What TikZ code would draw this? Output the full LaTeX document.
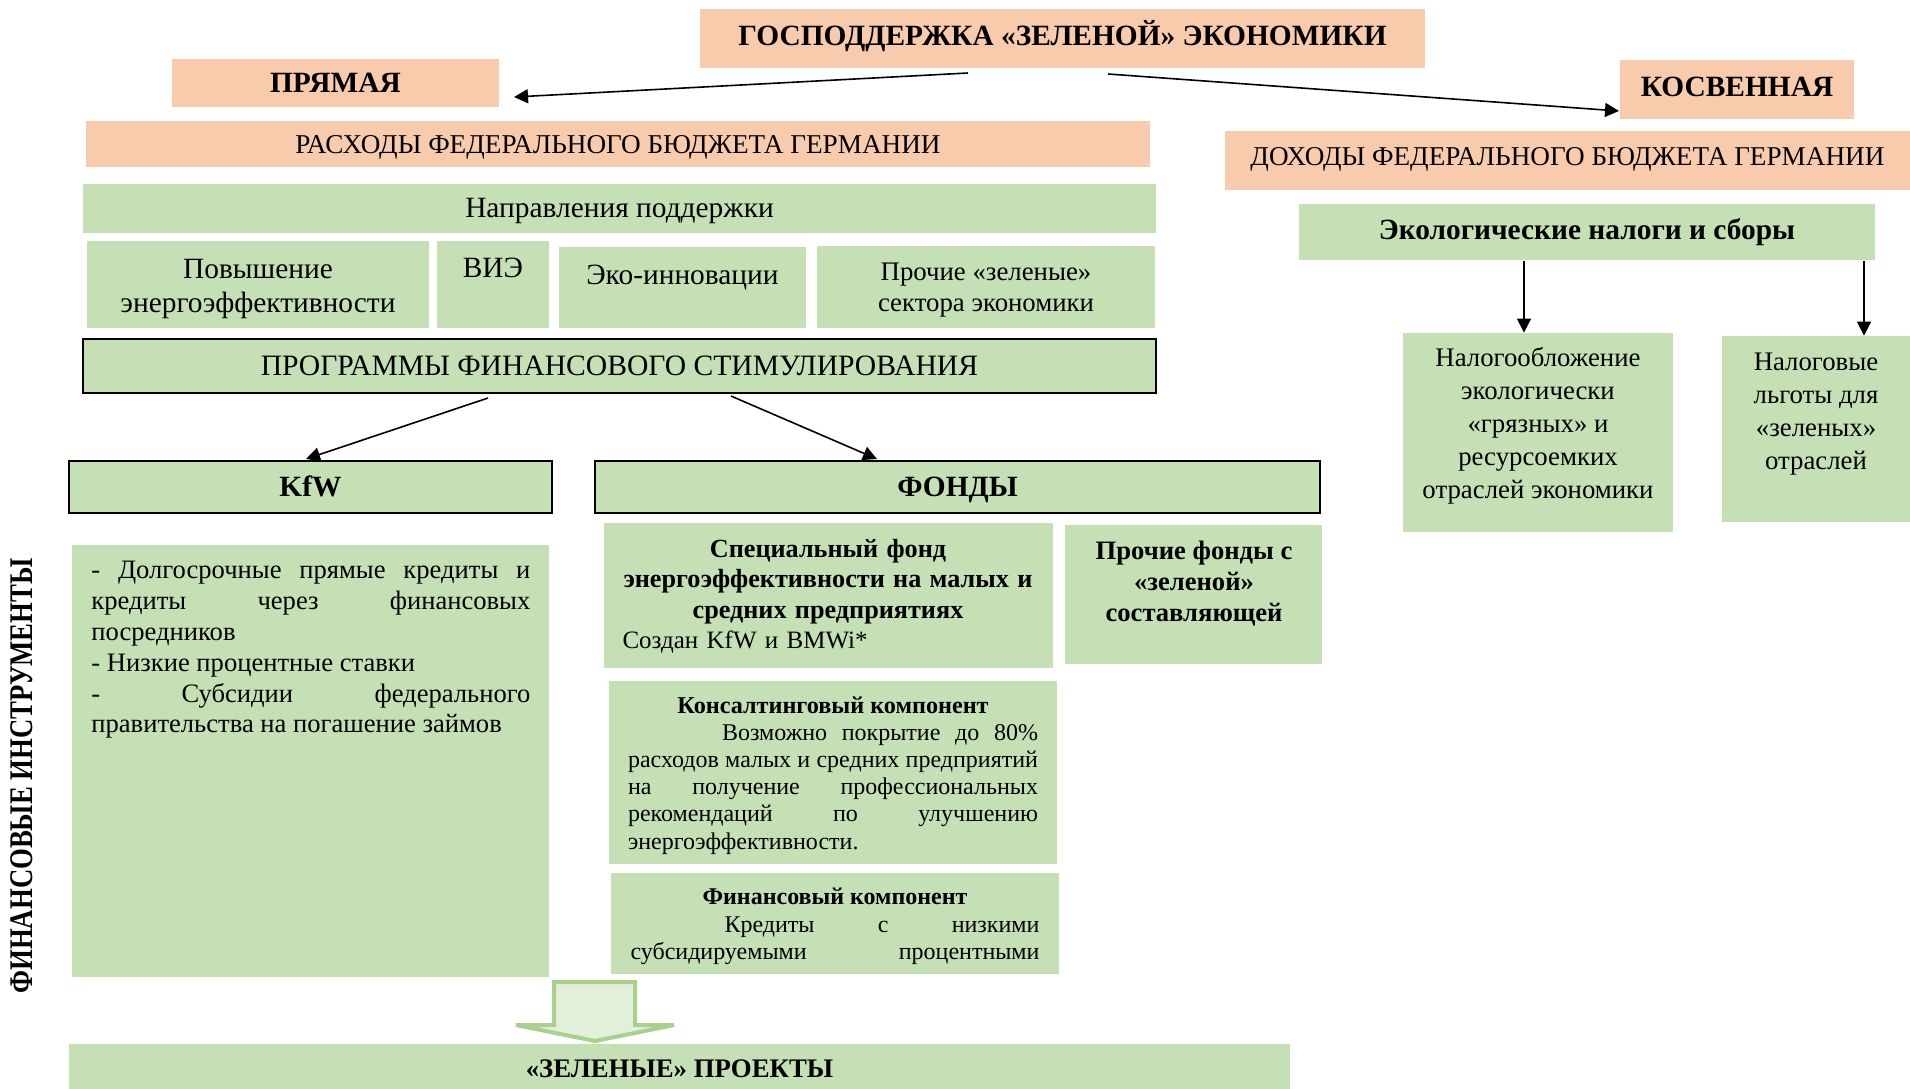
\documentclass[tikz,border=0pt]{standalone}
\usepackage{fontspec}
\setmainfont{Liberation Serif}
\usetikzlibrary{arrows.meta}
\definecolor{peachc}{HTML}{F8CBAD}
\definecolor{greenc}{HTML}{C5E0B4}
\definecolor{lightg}{HTML}{E2F0D9}
\definecolor{arrg}{HTML}{A9D18E}
\newcommand\fs[2]{\fontsize{#1}{#2}\selectfont}
\setlength\parindent{0pt}
\hyphenpenalty=10000
\begin{document}
\begin{tikzpicture}[x=0.5pt,y=-0.5pt,
 pbox/.style={fill=peachc, inner sep=0pt, align=center},
 gbox/.style={fill=greenc, inner sep=0pt, align=center},
 fbox/.style={gbox, draw=black, line width=1.3pt},
 one/.style={text height=0.68em, text depth=0.2em},
 midl/.style={text height=0.9em, text depth=0.15em},
 low/.style={text height=1.05em, text depth=0.1em},
 txt/.style={inner sep=0pt},
 arr/.style={-{Triangle[length=7pt,width=7pt]}, line width=0.8pt},
]
\useasboundingbox[fill=white] (0,0) rectangle (1910,1088);

% top level
\node[pbox, midl, minimum width=362.5pt, minimum height=29.5pt, font=\fs{14.7}{17}\bfseries] (top) at (1062.5,38) {ГОСПОДДЕРЖКА «ЗЕЛЕНОЙ» ЭКОНОМИКИ};
\node[pbox, low, minimum width=163.5pt, minimum height=24pt, font=\fs{14.7}{17}\bfseries] (pryam) at (335.5,83) {ПРЯМАЯ};
\node[pbox, midl, minimum width=117pt, minimum height=29.5pt, font=\fs{14.7}{17}\bfseries] (kosv) at (1737,89) {КОСВЕННАЯ};

% left column
\node[pbox, low, minimum width=532pt, minimum height=23pt, font=\fs{13.6}{16}] (rash) at (618,144) {РАСХОДЫ ФЕДЕРАЛЬНОГО БЮДЖЕТА ГЕРМАНИИ};
\node[gbox, low, minimum width=536.5pt, minimum height=24.5pt, font=\fs{14.7}{16}] (napr) at (619.5,208) {Направления поддержки};
\node[gbox, minimum width=171pt, minimum height=43.5pt] (povysh) at (258,284.5) {};
\node[txt, align=center, font=\fs{14.7}{17}] (povyshtxt) at (258,288.5) {Повышение\\энергоэффективности};
\node[gbox, minimum width=56pt, minimum height=43.5pt] (vie) at (493,284.5) {};
\node[txt, one, font=\fs{14.7}{16}] (vietxt) at (493,272.5) {ВИЭ};
\node[gbox, minimum width=123.5pt, minimum height=40.5pt] (eko) at (682.5,287.5) {};
\node[txt, one, font=\fs{14.7}{16}] (ekotxt) at (682.5,279.5) {Эко-инновации};
\node[gbox, minimum width=169pt, minimum height=41pt] (proch) at (986,287) {};
\node[txt, align=center, font=\fs{13.4}{15.2}] (prochtxt) at (986,290) {Прочие «зеленые»\\сектора экономики};
\node[fbox, low, minimum width=536.5pt, minimum height=27pt, font=\fs{14.8}{16}] (prog) at (619.5,366) {ПРОГРАММЫ ФИНАНСОВОГО СТИМУЛИРОВАНИЯ};

\node[fbox, low, minimum width=241.5pt, minimum height=26pt, font=\fs{14.7}{16}\bfseries] (kfw) at (310.5,487) {KfW};
\node[fbox, low, minimum width=362.5pt, minimum height=26pt, font=\fs{14.7}{16}\bfseries] (fond) at (957.5,487) {ФОНДЫ};

\node[gbox, minimum width=238.5pt, minimum height=216pt] (kfwbox) at (310.5,761) {};
\node[txt, anchor=north west, text width=219.5pt, align=justify, font=\fs{13.3}{15.4}] (kfwtxt) at (91,561)
 {- Долгосрочные прямые кредиты и\linebreak кредиты через финансовых\linebreak посредников\par
  - Низкие процентные ставки\par
  - Субсидии федерального\linebreak правительства на погашение займов\par};

\node[gbox, minimum width=224.5pt, minimum height=72.5pt] (spec) at (828.5,595.5) {};
\node[txt, anchor=north, text width=205.5pt, align=left, font=\fs{12.5}{15.2}] (spectxt) at (828,539)
 {{\centering\bfseries\fs{13.1}{15.2}Специальный фонд\\ энергоэффективности на малых и\\ средних предприятиях\par}Создан KfW и BMWi*};

\node[gbox, minimum width=128.5pt, minimum height=69.5pt] (prf) at (1193.5,594.5) {};
\node[txt, anchor=north, align=center, font=\fs{13.3}{15.5}\bfseries] (prftxt) at (1194,541) {Прочие фонды с\\«зеленой»\\составляющей};

\node[gbox, minimum width=224pt, minimum height=91.5pt] (kons) at (833,772.5) {};
\node[txt, anchor=north, text width=205pt, align=justify, font=\fs{12}{13.6}] (konstxt) at (833,696)
 {{\centering\bfseries\fs{12.1}{13.6}Консалтинговый компонент\par}\hspace*{47pt}Возможно покрытие до 80\%\linebreak расходов малых и средних предприятий\linebreak на получение профессиональных\linebreak рекомендаций по улучшению\linebreak энергоэффективности.};

\node[gbox, minimum width=224pt, minimum height=50.5pt] (fin) at (835,923.5) {};
\node[txt, anchor=north, text width=204.5pt, align=justify, font=\fs{12}{13.7}] (fintxt) at (835,888)
 {{\centering\bfseries Финансовый компонент\par}\hspace*{47pt}Кредиты\hfill с\hfill низкими\linebreak субсидируемыми\hfill процентными};

\node[gbox, low, minimum width=610.5pt, minimum height=24pt, font=\fs{13.4}{16}\bfseries] (zel) at (679.5,1068) {«ЗЕЛЕНЫЕ» ПРОЕКТЫ};

\node[txt, rotate=90, font=\fs{16.5}{18}\bfseries] (finins) at (22,776) {\scalebox{0.81}[1]{ФИНАНСОВЫЕ ИНСТРУМЕНТЫ}};

% right column
\node[pbox, one, minimum width=342.5pt, minimum height=29.5pt, font=\fs{13.6}{16}] (dohod) at (1567.5,160.5) {ДОХОДЫ ФЕДЕРАЛЬНОГО БЮДЖЕТА ГЕРМАНИИ};
\node[gbox, midl, minimum width=288pt, minimum height=28pt, font=\fs{14.7}{16}\bfseries] (ekonal) at (1587,232) {Экологические налоги и сборы};
\node[gbox, minimum width=135pt, minimum height=99.5pt] (nalogo) at (1538,432.5) {};
\node[txt, align=center, font=\fs{13.4}{16.5}] (nalogotxt) at (1538,425.5) {Налогообложение\\экологически\\«грязных» и\\ресурсоемких\\отраслей экономики};
\node[gbox, minimum width=94pt, minimum height=93pt] (lgoty) at (1816,429) {};
\node[txt, align=center, font=\fs{13.4}{16.5}] (lgotytxt) at (1816,414) {Налоговые\\льготы для\\«зеленых»\\отраслей};

% connectors
\coordinate (a1s) at (968,73);
\coordinate (a1e) at (514,97);
\coordinate (a2s) at (1108,74);
\coordinate (a2e) at (1619,111);
\draw[arr] (a1s) -- (a1e);
\draw[arr] (a2s) -- (a2e);
\coordinate (p1s) at (488,398);
\coordinate (p1e) at (306,459);
\coordinate (p2s) at (731,396);
\coordinate (p2e) at (877,459);
\draw[arr] (p1s) -- (p1e);
\draw[arr] (p2s) -- (p2e);
\coordinate (d1) at (1524,261);
\coordinate (d2) at (1864,261);
\draw[arr] (d1) -- (d1 |- nalogo.north);
\draw[arr] (d2) -- (d2 |- lgoty.north);

% block arrow
\draw[fill=lightg, draw=arrg, line width=2pt] (554,982) -- (635,982) -- (635,1025) -- (674,1025) -- (595,1041) -- (516,1025) -- (554,1025) -- cycle;
\end{tikzpicture}
\end{document}
